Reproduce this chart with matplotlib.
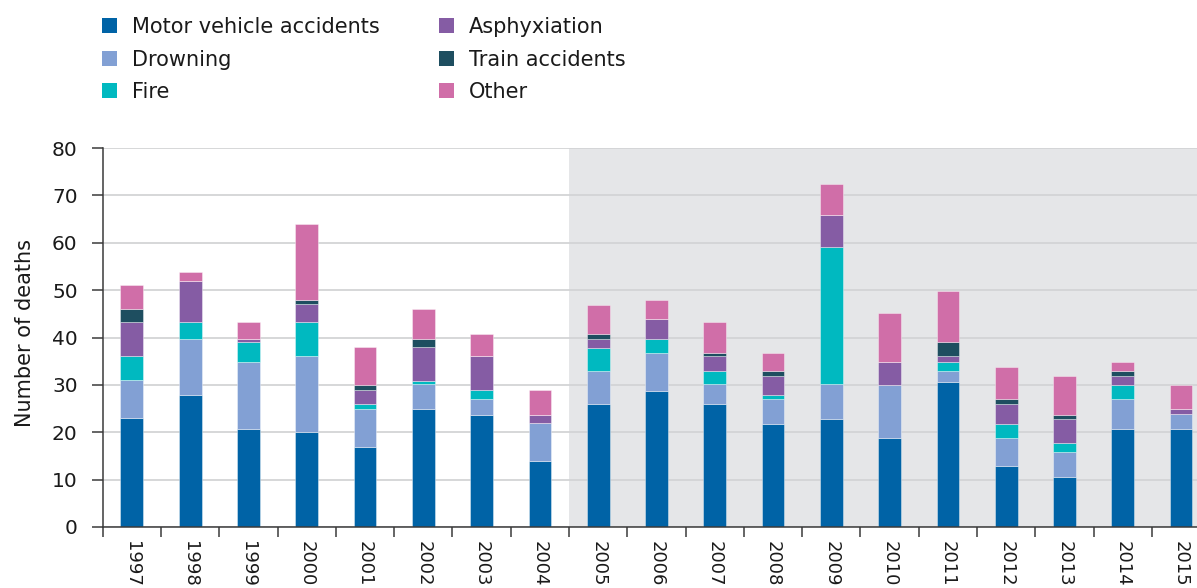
import matplotlib
matplotlib.use("Agg")
import matplotlib.pyplot as plt
import numpy as np
from matplotlib.patches import Patch

years = ["1997", "1998", "1999", "2000", "2001", "2002", "2003", "2004", "2005", "2006",
         "2007", "2008", "2009", "2010", "2011", "2012", "2013", "2014", "2015"]
motor = [23, 27.8, 20.6, 20, 16.9, 24.9, 23.6, 13.9, 25.9, 28.8, 25.9, 21.8, 22.9, 18.8, 30.7, 12.8, 10.5, 20.6, 20.6]
drowning = [8, 11.9, 14.3, 16, 8, 5.2, 3.5, 8, 7.1, 8, 4.2, 5.3, 7.2, 11.2, 2.3, 6, 5.4, 6.5, 3.2]
fire = [5, 3.5, 4.1, 7.2, 1.1, 0.8, 1.9, 0, 4.8, 2.9, 2.9, 0.7, 29, 0, 1.9, 3, 1.9, 2.9, 0]
asphyxiation = [7.2, 8.8, 0.6, 3.8, 3, 7, 7, 1.7, 1.9, 4.2, 3, 4.1, 6.7, 4.8, 1.1, 4.1, 5.1, 1.9, 1.1]
train = [2.8, 0, 0, 0.9, 1, 1.8, 0, 0, 1.1, 0, 0.7, 1.1, 0, 0, 3, 1.1, 0.7, 1.1, 0]
other = [5, 1.9, 3.6, 16.1, 7.9, 6.3, 4.8, 5.4, 6.1, 4, 6.5, 3.8, 6.5, 10.3, 10.8, 6.7, 8.3, 1.9, 5.1]

series_names = ["Motor vehicle accidents", "Drowning", "Fire", "Asphyxiation", "Train accidents", "Other"]
series_vals = [motor, drowning, fire, asphyxiation, train, other]
colors = ["#0063a6", "#82a0d4", "#00b9c0", "#855ca4", "#1e4e60", "#d06ea8"]

W, H = 1197, 588
fig = plt.figure(figsize=(W / 100, H / 100), dpi=100)
left_px, right_px, top_px, bottom_px = 102.7, 1210.2, 148, 527
ax = fig.add_axes([left_px / W, (H - bottom_px) / H, (right_px - left_px) / W, (bottom_px - top_px) / H])

x = np.arange(len(years))
ax.axvspan(7.5, 18.5, color="#e5e6e8", zorder=0.1, lw=0)

bottom = np.zeros(len(years))
for name, vals, c in zip(series_names, series_vals, colors):
    v = np.array(vals, dtype=float)
    ax.bar(x, v, width=0.39, bottom=bottom, color=c, edgecolor=(1, 1, 1, 0.45),
           linewidth=0.6, zorder=3, label=name)
    bottom += v

ax.set_xlim(-0.5, 18.5)
ax.set_ylim(0, 80)
ax.set_yticks(np.arange(0, 81, 10))
ax.set_axisbelow(True)
ax.yaxis.grid(True, color="#d3d4d6", linewidth=1.3, zorder=0.5)
ax.xaxis.grid(False)

for s in ["top", "right"]:
    ax.spines[s].set_visible(False)
for s in ["left", "bottom"]:
    ax.spines[s].set_color("#3a3a3a")
    ax.spines[s].set_linewidth(1.1)
    ax.spines[s].set_zorder(4)

ax.set_xticks(x)
ax.set_xticklabels(years, rotation=270, fontsize=13, color="#1a1a1a")
ax.set_xticks(np.arange(-0.5, 19.0, 1.0), minor=True)
ax.tick_params(axis="x", which="major", length=0, pad=10)
ax.tick_params(axis="x", which="minor", length=7.5, width=1.1, color="#3a3a3a")
ax.tick_params(axis="y", length=8, width=1.1, color="#3a3a3a", pad=10, labelsize=14.5, labelcolor="#1a1a1a")

fig.text(25 / W, (H - 333) / H, "Number of deaths", rotation=90, ha="center", va="center",
         fontsize=15, color="#1a1a1a")

handles = [Patch(facecolor=c, edgecolor="none") for c in colors]
fig.legend(handles, series_names, loc="upper left", bbox_to_anchor=(102 / W, (H - 17) / H),
           ncol=2, frameon=False, fontsize=15, borderpad=0, borderaxespad=0,
           handlelength=0.72, handleheight=0.72, handletextpad=0.72,
           labelspacing=0.6, columnspacing=2.85, labelcolor="#1a1a1a")

fig.savefig("out.png", dpi=100)
